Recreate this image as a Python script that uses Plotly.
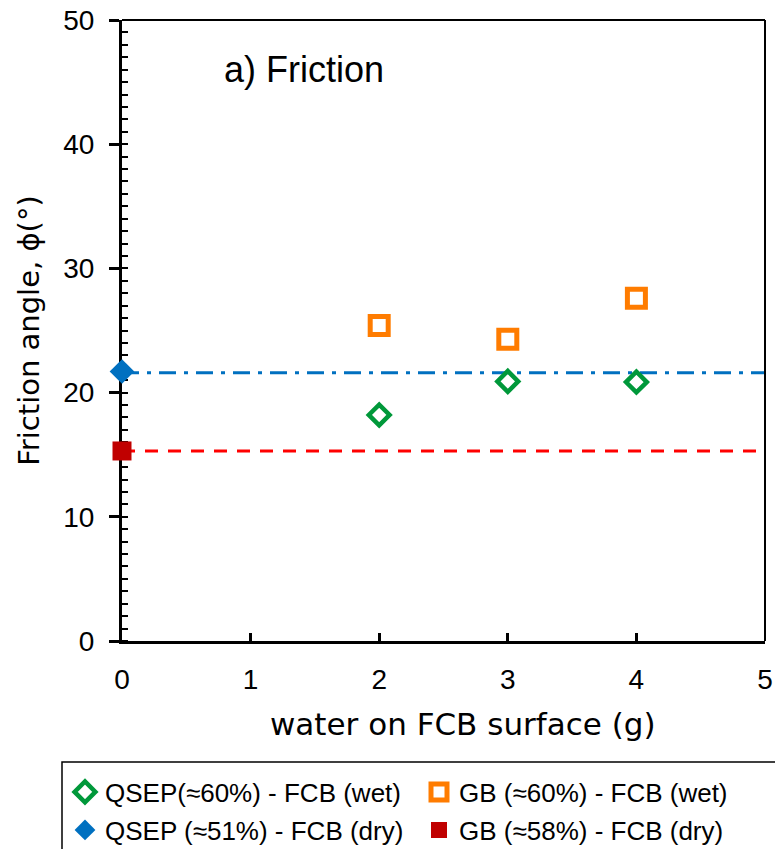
import plotly.graph_objects as go

# Friction angle vs water added on the FCB surface
water_wet = [2, 3, 4]
qsep_wet = [18.2, 20.9, 20.85]
gb_wet = [25.4, 24.3, 27.6]

water_dry = [0]
qsep_dry = [21.7]
gb_dry = [15.3]

# reference lines for the dry tests, spanning the full x range
line_x = [0, 5]
qsep_dry_line = [21.6, 21.6]
gb_dry_line = [15.3, 15.3]

BLUE = "#0070C0"
RED_LINE = "#FF0000"
RED = "#C00000"
GREEN = "#00983A"
ORANGE = "#FF7C00"

ARIAL = "Liberation Sans, Arial, sans-serif"
WIDE = "DejaVu Sans, Verdana, sans-serif"

fig = go.Figure()

fig.add_trace(go.Scatter(x=line_x, y=qsep_dry_line, mode="lines",
                         line=dict(color=BLUE, width=3, dash="17px,8px,4px,8px"),
                         showlegend=False, hoverinfo="skip"))
fig.add_trace(go.Scatter(x=line_x, y=gb_dry_line, mode="lines",
                         line=dict(color=RED_LINE, width=3, dash="13px,10px"),
                         showlegend=False, hoverinfo="skip"))

fig.add_trace(go.Scatter(x=water_wet, y=qsep_wet, mode="markers",
                         name="QSEP(≈60%) - FCB (wet)", legend="legend", cliponaxis=False,
                         marker=dict(symbol="diamond-open", size=16, color=GREEN,
                                     line=dict(width=4.5, color=GREEN))))
fig.add_trace(go.Scatter(x=water_wet, y=gb_wet, mode="markers",
                         name="GB (≈60%) - FCB (wet)", legend="legend2", cliponaxis=False,
                         marker=dict(symbol="square-open", size=18, color=ORANGE,
                                     line=dict(width=5, color=ORANGE))))
fig.add_trace(go.Scatter(x=water_dry, y=qsep_dry, mode="markers",
                         name="QSEP (≈51%) - FCB (dry)", legend="legend3", cliponaxis=False,
                         marker=dict(symbol="diamond", size=19, color=BLUE,
                                     line=dict(width=0))))
fig.add_trace(go.Scatter(x=water_dry, y=gb_dry, mode="markers",
                         name="GB (≈58%) - FCB (dry)", legend="legend4", cliponaxis=False,
                         marker=dict(symbol="square", size=19, color=RED,
                                     line=dict(width=0))))

TICK_FONT = dict(family=ARIAL, size=28, color="#000000")
LEGEND_FONT = dict(family=ARIAL, size=26, color="#000000")

W, H = 775, 849
PLOT_L, PLOT_R, PLOT_T, PLOT_B = 122, 765, 20, 641


def px_to_paper_x(px):
    return (px - PLOT_L) / (PLOT_R - PLOT_L)


def px_to_paper_y(py):
    return (PLOT_B - py) / (PLOT_B - PLOT_T)


def legend_cell(px, py):
    """One legend entry placed at a pixel position (left edge, vertical centre)."""
    return dict(orientation="h", x=px / W, xref="container", xanchor="left",
                y=1 - py / H, yref="container", yanchor="middle",
                itemsizing="trace", font=LEGEND_FONT,
                borderwidth=0, bgcolor="rgba(0,0,0,0)")


fig.update_layout(
    width=W, height=H,
    margin=dict(l=PLOT_L, r=W - PLOT_R, t=PLOT_T, b=H - PLOT_B, autoexpand=False),
    paper_bgcolor="white", plot_bgcolor="white",
    font=TICK_FONT,
    xaxis=dict(range=[0, 5], dtick=1, tick0=0, showgrid=False, zeroline=False,
               showline=True, linewidth=3, linecolor="black", layer="below traces",
               ticks="inside", ticklen=8, tickwidth=2.5, tickcolor="black",
               ticklabelstandoff=11, tickfont=TICK_FONT),
    yaxis=dict(range=[0, 50], dtick=10, tick0=0, showgrid=False, zeroline=False,
               showline=True, linewidth=3, linecolor="black", layer="below traces",
               ticks="outside", ticklen=10, tickwidth=2.5, tickcolor="black",
               ticklabelstandoff=9, tickfont=TICK_FONT,
               minor=dict(ticks="inside", dtick=1, ticklen=6, tickwidth=2, tickcolor="black",
                          showgrid=False),
               title=dict(text="Friction angle, ϕ(°)", standoff=16,
                          font=dict(family=WIDE, size=29))),
    legend=legend_cell(65, 792),
    legend2=legend_cell(419, 792),
    legend3=legend_cell(65, 830),
    legend4=legend_cell(419, 830),
    shapes=[
        dict(type="line", xref="paper", yref="paper", x0=0, x1=1, y0=1, y1=1,
             line=dict(color="black", width=2)),
        dict(type="line", xref="paper", yref="paper", x0=1, x1=1, y0=0, y1=1,
             line=dict(color="black", width=2)),
        # frame around the legend entries
        dict(type="rect", xref="paper", yref="paper",
             x0=px_to_paper_x(62), x1=px_to_paper_x(790),
             y0=px_to_paper_y(762), y1=px_to_paper_y(860),
             line=dict(color="black", width=1.5), fillcolor="rgba(0,0,0,0)"),
    ],
    annotations=[
        dict(text="a) Friction", x=0.155, y=0.92, xref="paper", yref="paper",
             xanchor="left", yanchor="middle", showarrow=False,
             font=dict(family=ARIAL, size=36, color="black")),
        dict(text="water on FCB surface (g)", x=px_to_paper_x(463), y=px_to_paper_y(724),
             xref="paper", yref="paper", xanchor="center", yanchor="middle",
             showarrow=False, font=dict(family=WIDE, size=31, color="black")),
    ],
)

fig.write_html("out.html")
